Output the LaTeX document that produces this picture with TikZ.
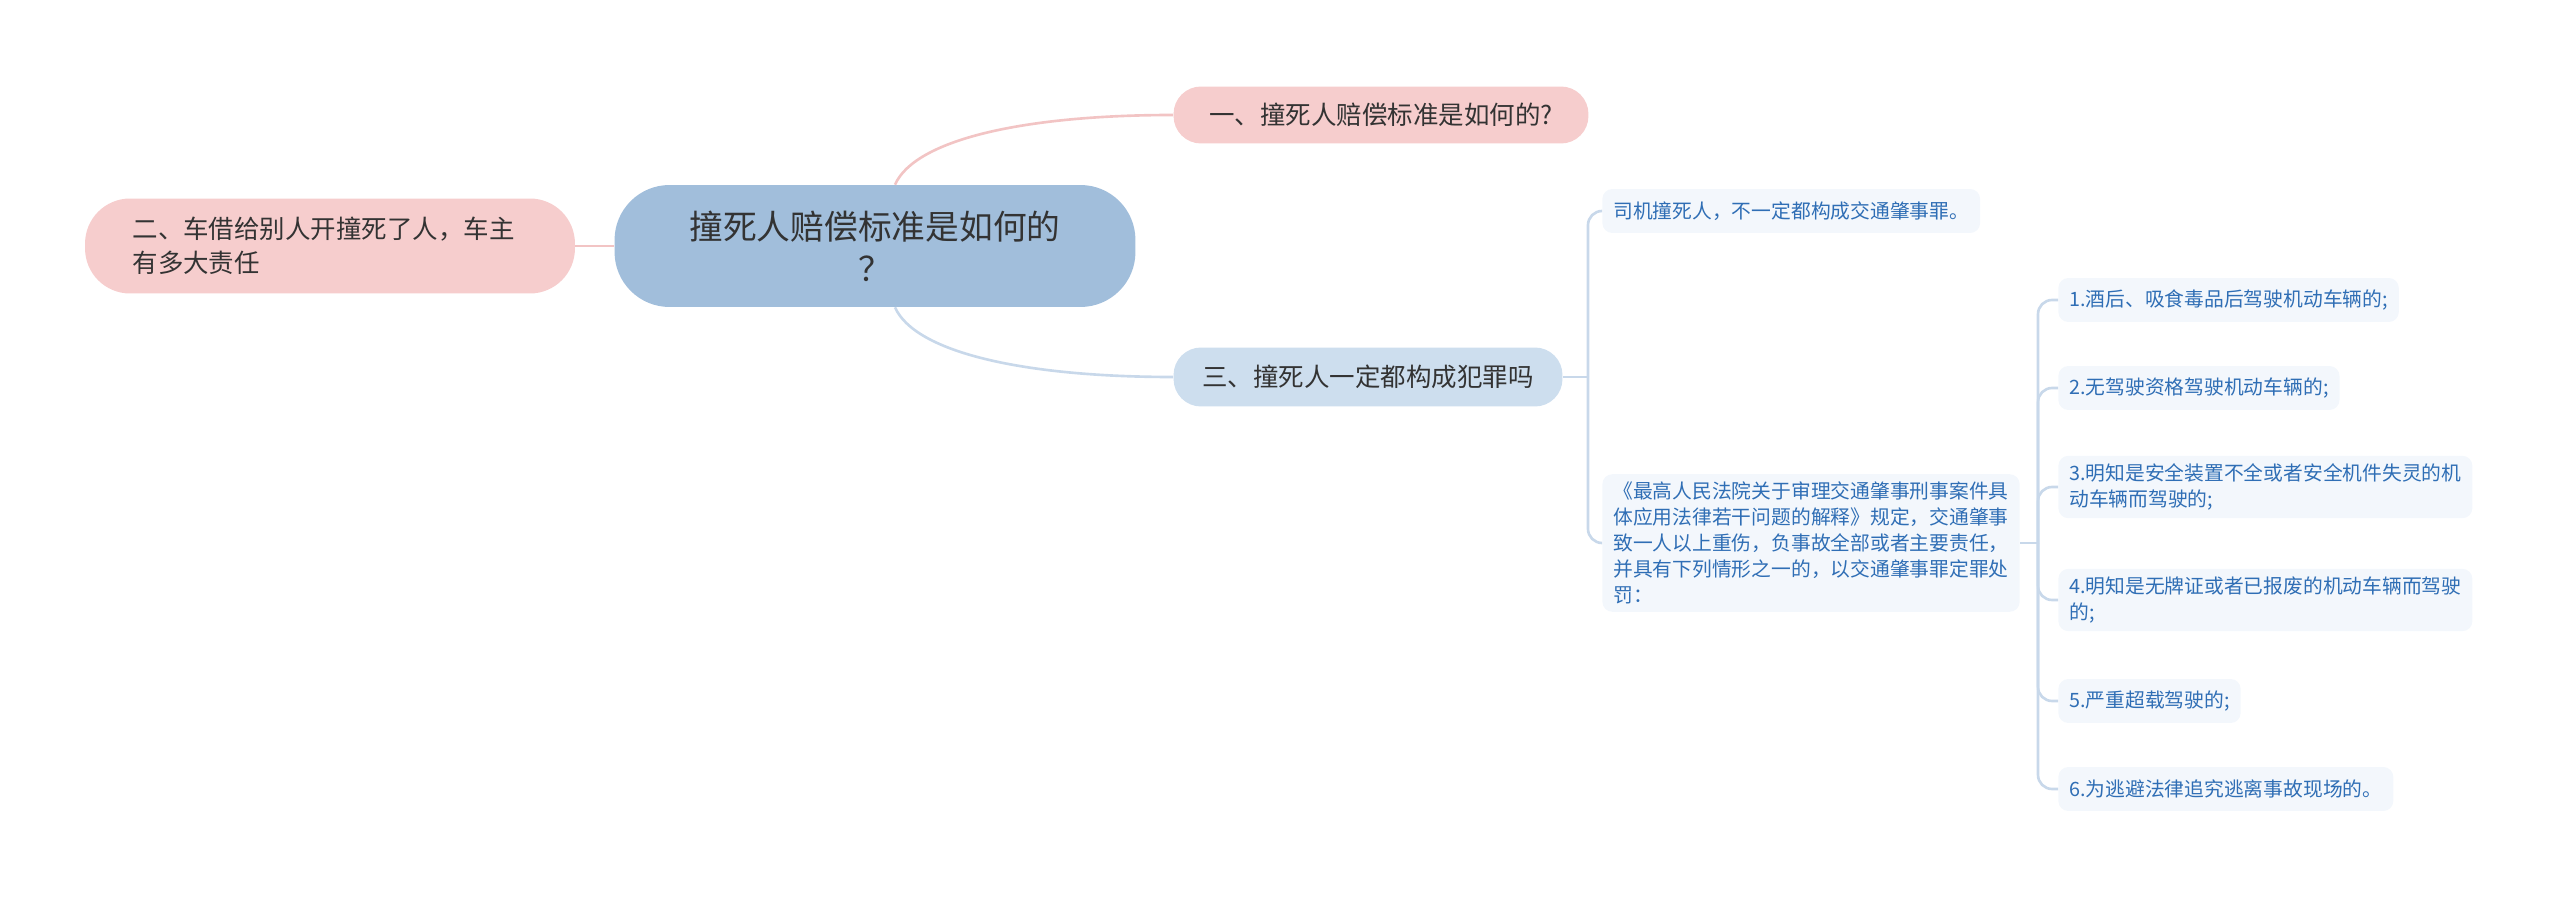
\documentclass[tikz,border=0pt]{standalone}
\usepackage{fontspec}
\setmainfont{Noto Sans CJK SC}
\usetikzlibrary{positioning,calc}
\definecolor{rootblue}{HTML}{A1BEDB}
\definecolor{topicpink}{HTML}{F6CDCD}
\definecolor{topicblue}{HTML}{CDDEEE}
\definecolor{leaffill}{HTML}{F3F7FC}
\definecolor{leaftext}{HTML}{2F6EB5}
\definecolor{darktext}{HTML}{333333}
\definecolor{linepink}{HTML}{F2C4C4}
\definecolor{lineblue}{HTML}{C8D8EA}
\tikzset{
    root-topic/.style={
        rectangle,
        rounded corners=1.1cm,
        fill=rootblue,
        text=darktext,
        font=\fontsize{19.2}{24}\selectfont,
        align=center,
        minimum width=10.42cm,
        minimum height=2.44cm,
    },
    topic-pink/.style={
        rectangle,
        rounded corners=0.55cm,
        fill=topicpink,
        text=darktext,
        font=\fontsize{14.5}{19.3}\selectfont,
        minimum height=1.14cm,
    },
    topic-blue/.style={
        rectangle,
        rounded corners=0.55cm,
        fill=topicblue,
        text=darktext,
        font=\fontsize{14.5}{19.3}\selectfont,
        minimum height=1.18cm,
    },
    leaf/.style={
        rectangle,
        rounded corners=0.2cm,
        fill=leaffill,
        text=leaftext,
        font=\fontsize{11.25}{14.7}\selectfont,
        align=left,
        anchor=west,
        inner xsep=0.22cm,
        inner ysep=0.16cm,
        minimum height=0.88cm,
    },
    link-pink/.style={
        draw=linepink,
        line width=1.5pt,
    },
    link-blue/.style={
        draw=lineblue,
        line width=1.5pt,
    },
}
\begin{document}
\begin{tikzpicture}[x=0.02cm,y=0.02cm]
\useasboundingbox (0,0) rectangle (2560,-898);
% topics
\node [root-topic] (root) at (875,-246) {撞死人赔偿标准是如何的\\？};
\node [topic-pink, minimum width=8.3cm] (t1) at (1381,-115) {一、撞死人赔偿标准是如何的?};
\node [topic-pink, minimum width=9.8cm, minimum height=1.9cm, rounded corners=0.9cm,
       text width=7.9cm, align=left] (t2) at (330,-246) {二、车借给别人开撞死了人，车主\\有多大责任};
\node [topic-blue, minimum width=7.78cm] (t3) at (1368,-377) {三、撞死人一定都构成犯罪吗};
% details of t3
\node [leaf] (d1) at (1602,-211) {司机撞死人，不一定都构成交通肇事罪。};
\node [leaf] (d2) at (1602,-543) {《最高人民法院关于审理交通肇事刑事案件具\\体应用法律若干问题的解释》规定，交通肇事\\致一人以上重伤，负事故全部或者主要责任，\\并具有下列情形之一的，以交通肇事罪定罪处\\罚：};
\node [leaf] (i1) at (2058,-300) {1.酒后、吸食毒品后驾驶机动车辆的;};
\node [leaf] (i2) at (2058,-388) {2.无驾驶资格驾驶机动车辆的;};
\node [leaf] (i3) at (2058,-487) {3.明知是安全装置不全或者安全机件失灵的机\\动车辆而驾驶的;};
\node [leaf] (i4) at (2058,-600) {4.明知是无牌证或者已报废的机动车辆而驾驶\\的;};
\node [leaf] (i5) at (2058,-701) {5.严重超载驾驶的;};
\node [leaf] (i6) at (2058,-789) {6.为逃避法律追究逃离事故现场的。};
% links
\coordinate (j3) at (1588,-377);
\coordinate (j4) at (2038,-543);
\draw [link-pink] ($(root.north)+(20,0)$) .. controls +(20,45) and +(-150,0) .. (t1.west);
\draw [link-pink] (root.west) -- (t2.east);
\draw [link-blue] ($(root.south)+(20,0)$) .. controls +(20,-45) and +(-150,0) .. (t3.west);
\draw [link-blue] (t3.east) -- (j3);
\draw [link-blue, rounded corners=8pt] (d1.west) -| (j3);
\draw [link-blue, rounded corners=8pt] (d2.west) -| (j3);
\draw [link-blue] (d2.east) -- (j4);
\foreach \i in {1,...,6}
    \draw [link-blue, rounded corners=8pt] (i\i.west) -| (j4);
\end{tikzpicture}
\end{document}
